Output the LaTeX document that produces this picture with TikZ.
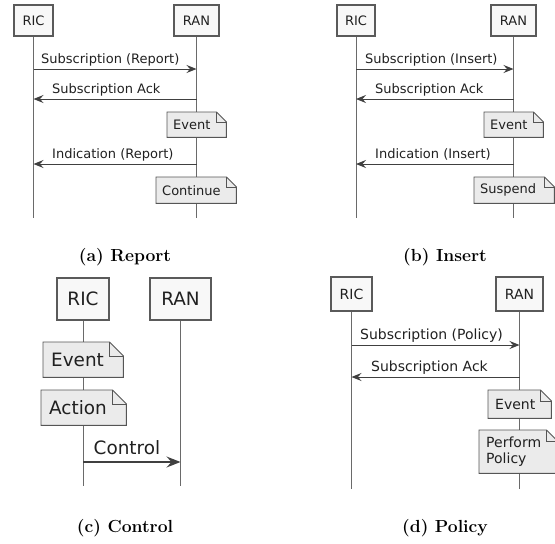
\documentclass[tikz,border=0pt]{standalone}
\usepackage{fontspec}
\newfontfamily\dvsans{DejaVu Sans}
\usetikzlibrary{arrows.meta}
\definecolor{partfill}{HTML}{F8F8F8}
\definecolor{partline}{HTML}{5A5A5A}
\definecolor{notefill}{HTML}{EBEBEB}
\definecolor{noteline}{HTML}{555555}
\definecolor{lifec}{HTML}{6A6A6A}
\definecolor{msgc}{HTML}{404040}
\definecolor{txtc}{HTML}{202020}
\newcommand\fA{\dvsans\fontsize{13}{15}\selectfont}
\newcommand\fC{\dvsans\fontsize{18.4}{21}\selectfont}
\newcommand\fD{\dvsans\fontsize{14}{16}\selectfont}
\newcommand\fCap{\bfseries\fontsize{17.5}{20}\selectfont}
\newcommand\notedeco[2]{%
  \fill[white] ([xshift=-#2]#1.north east) -- (#1.north east) -- ([yshift=-#2]#1.north east) -- cycle;
  \draw[noteborder] (#1.north west) -- ([xshift=-#2]#1.north east) -- ([yshift=-#2]#1.north east) -- (#1.south east) -- (#1.south west) -- cycle;
  \draw[noteborder] ([xshift=-#2]#1.north east) -- ([xshift=-#2,yshift=-#2]#1.north east) -- ([yshift=-#2]#1.north east);
}
\tikzset{
  part/.style={draw=partline, fill=partfill, line width=1.4pt, inner sep=0pt, text=txtc},
  life/.style={draw=lifec, line width=0.9pt},
  msg/.style={draw=msgc, line width=1pt, -{Stealth[length=10pt,width=8pt,inset=3.5pt]}},
  msgC/.style={draw=msgc, line width=1.3pt, -{Stealth[length=14pt,width=11pt,inset=5pt]}},
  lbl/.style={anchor=base west, inner sep=0pt, text=txtc},
  note/.style={fill=notefill, inner ysep=0pt, align=left, text=txtc},
  noteborder/.style={draw=noteline, line width=0.9pt, line join=miter},
  captxt/.style={inner sep=0pt, text=black, font=\fCap}
}
\begin{document}
\begin{tikzpicture}[x=1pt,y=-1pt]
\useasboundingbox (0,0) rectangle (555,544);
% ---------------- (a) Report ----------------
\node[part, font=\fA, minimum width=39pt, minimum height=31pt] (aRIC) at (33.5,20.5) {RIC};
\node[part, font=\fA, minimum width=45pt, minimum height=31pt] (aRAN) at (196.5,20.5) {RAN};
\coordinate (aRICe) at (33.5,218);
\coordinate (aRANe) at (196.5,218);
\draw[life] (aRIC.south) -- (aRICe);
\draw[life] (aRAN.south) -- (aRANe);
\coordinate (a1l) at (33.5,69); \coordinate (a1r) at (196.5,69);
\coordinate (a2l) at (33.5,99); \coordinate (a2r) at (196.5,99);
\coordinate (a3l) at (33.5,164); \coordinate (a3r) at (196.5,164);
\draw[msg] (a1l) -- (a1r);
\draw[msg] (a2r) -- (a2l);
\draw[msg] (a3r) -- (a3l);
\node[lbl, font=\fA] (a1t) at (41,63.5) {Subscription (Report)};
\node[lbl, font=\fA] (a2t) at (52,93.5) {Subscription Ack};
\node[lbl, font=\fA] (a3t) at (52,158.5) {Indication (Report)};
\node[note, font=\fA, text width=47pt, inner xsep=6pt, minimum height=25pt, anchor=north west] (aEv) at (167,112) {Event};
\notedeco{aEv}{10pt}
\node[note, font=\fA, text width=68pt, inner xsep=6pt, minimum height=26pt, anchor=north west] (aCo) at (156,177) {Continue};
\notedeco{aCo}{10pt}
\node[captxt] (acap) at (125,257) {(a) Report};
% ---------------- (b) Insert ----------------
\node[part, font=\fA, minimum width=38pt, minimum height=31pt] (bRIC) at (356,20.5) {RIC};
\node[part, font=\fA, minimum width=45pt, minimum height=31pt] (bRAN) at (513.5,20.5) {RAN};
\coordinate (bRICe) at (356,218);
\coordinate (bRANe) at (513.5,218);
\draw[life] (bRIC.south) -- (bRICe);
\draw[life] (bRAN.south) -- (bRANe);
\coordinate (b1l) at (356,69); \coordinate (b1r) at (513.5,69);
\coordinate (b2l) at (356,99); \coordinate (b2r) at (513.5,99);
\coordinate (b3l) at (356,164); \coordinate (b3r) at (513.5,164);
\draw[msg] (b1l) -- (b1r);
\draw[msg] (b2r) -- (b2l);
\draw[msg] (b3r) -- (b3l);
\node[lbl, font=\fA] (b1t) at (365,63.5) {Subscription (Insert)};
\node[lbl, font=\fA] (b2t) at (375,93.5) {Subscription Ack};
\node[lbl, font=\fA] (b3t) at (375,158.5) {Indication (Insert)};
\node[note, font=\fA, text width=47pt, inner xsep=6pt, minimum height=25pt, anchor=north west] (bEv) at (484,112) {Event};
\notedeco{bEv}{10pt}
\node[note, font=\fA, text width=68pt, inner xsep=6pt, minimum height=26pt, anchor=north west] (bSu) at (474,177) {Suspend};
\notedeco{bSu}{10pt}
\node[captxt] (bcap) at (445,257) {(b) Insert};
% ---------------- (c) Control ----------------
\node[part, font=\fC, minimum width=52pt, minimum height=42pt] (cRIC) at (83,299) {RIC};
\node[part, font=\fC, minimum width=61pt, minimum height=42pt] (cRAN) at (180.5,299) {RAN};
\coordinate (cRICe) at (83,486);
\coordinate (cRANe) at (180.5,486);
\draw[life] (cRIC.south) -- (cRICe);
\draw[life] (cRAN.south) -- (cRANe);
\node[note, font=\fC, text width=64pt, inner xsep=8pt, minimum height=35pt, anchor=north west] (cEv) at (43,342) {Event};
\notedeco{cEv}{14pt}
\node[note, font=\fC, text width=69pt, inner xsep=8pt, minimum height=35pt, anchor=north west] (cAc) at (41,390) {Action};
\notedeco{cAc}{14pt}
\coordinate (c1l) at (83,462); \coordinate (c1r) at (180.5,462);
\draw[msgC] (c1l) -- (c1r);
\node[lbl, font=\fC] (c1t) at (93.5,454.5) {Control};
\node[captxt] (ccap) at (125,528) {(c) Control};
% ---------------- (d) Policy ----------------
\node[part, font=\fD, minimum width=41pt, minimum height=34pt] (dRIC) at (351.5,294) {RIC};
\node[part, font=\fD, minimum width=47pt, minimum height=34pt] (dRAN) at (519.5,294) {RAN};
\coordinate (dRICe) at (351.5,489);
\coordinate (dRANe) at (519.5,489);
\draw[life] (dRIC.south) -- (dRICe);
\draw[life] (dRAN.south) -- (dRANe);
\coordinate (d1l) at (351.5,345); \coordinate (d1r) at (519.5,345);
\coordinate (d2l) at (351.5,377); \coordinate (d2r) at (519.5,377);
\draw[msg] (d1l) -- (d1r);
\draw[msg] (d2r) -- (d2l);
\node[lbl, font=\fD] (d1t) at (360,339.5) {Subscription (Policy)};
\node[lbl, font=\fD] (d2t) at (371,371.5) {Subscription Ack};
\node[note, font=\fD, text width=49pt, inner xsep=7pt, minimum height=28pt, anchor=north west] (dEv) at (488,390) {Event};
\notedeco{dEv}{11pt}
\node[note, font=\fD, text width=64pt, inner xsep=7pt, minimum height=43pt, anchor=north west] (dPe) at (479,430) {Perform\\Policy};
\notedeco{dPe}{11pt}
\node[captxt] (dcap) at (445,528) {(d) Policy};
\end{tikzpicture}
\end{document}
